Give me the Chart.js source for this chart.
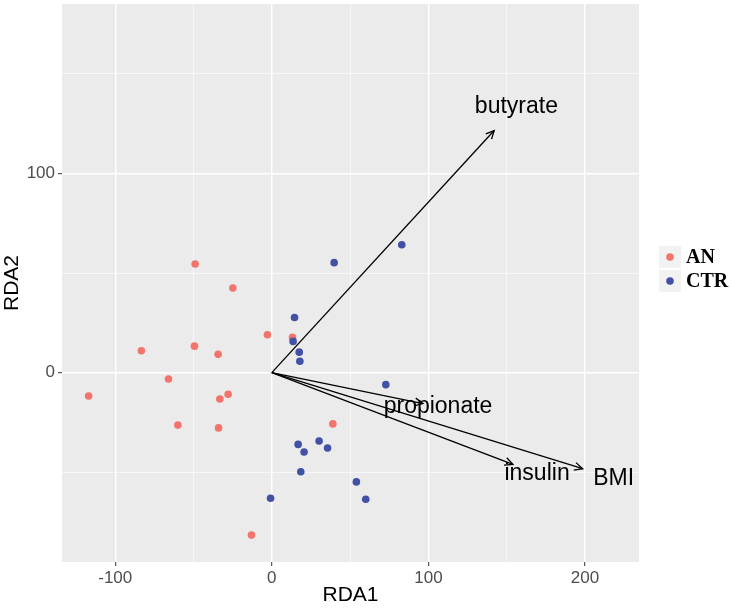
<!DOCTYPE html>
<html>
<head>
<meta charset="utf-8">
<script src="https://cdn.jsdelivr.net/npm/chart.js@4.4.1/dist/chart.umd.min.js"></script>
<style>
  html, body { margin: 0; padding: 0; background: #fff; }
</style>
</head>
<body>
<canvas id="rdaChart" width="732" height="608"></canvas>
<script>
// sample scores on RDA1 / RDA2
const anX = [-49, -24.9, -2.8, 13.2, -83.3, -49.4, -34.3, -66, -117, -33.2, -27.9, -60, -34, 39, -13];
const anY = [54.5, 42.5, 19, 17.7, 11, 13.3, 9.2, -3.2, -11.7, -13.2, -10.8, -26.3, -27.7, -25.7, -81.5];
const ctrX = [83, 39.8, 14.5, 13.6, 17.5, 17.9, 72.8, 16.8, 20.6, 30.2, 35.6, 18.5, 54, 60, -0.8];
const ctrY = [64.2, 55.2, 27.7, 15.7, 10.3, 5.7, -6, -36, -39.8, -34.3, -37.8, -49.7, -54.8, -63.5, -63];

// environmental vectors (arrow tips)
const envNames = ['butyrate', 'propionate', 'insulin', 'BMI'];
const envX = [142, 96.5, 154, 198.5];
const envY = [121.5, -15.5, -46, -48.2];

// axis ticks (minor grid every 50, labels only on majors)
const xTicks = [-100, -50, 0, 50, 100, 150, 200];
const xMajor = [-100, 0, 100, 200];
const yTicks = [-50, 0, 50, 100, 150];
const yMajor = [0, 100];

const groups = ['AN', 'CTR'];
const groupColors = ['#F2746B', '#4250A6'];

const sans = '"Liberation Sans", Arial, sans-serif';

function toPoints(xs, ys) {
    return xs.map((v, i) => ({ x: v, y: ys[i] }));
}

// grey panel behind the grid
const panelBg = {
    id: 'panelBg',
    beforeDraw(chart) {
        const { ctx, chartArea: a } = chart;
        ctx.save();
        ctx.fillStyle = '#EBEBEB';
        ctx.fillRect(a.left, a.top, a.right - a.left, a.bottom - a.top);
        ctx.restore();
    }
};

// arrow heads + vector labels
const arrowHeads = {
    id: 'arrowHeads',
    afterDatasetsDraw(chart) {
        const { ctx, scales: { x, y } } = chart;
        const x0 = x.getPixelForValue(0), y0 = y.getPixelForValue(0);
        ctx.save();
        ctx.strokeStyle = '#000';
        ctx.lineWidth = 1.3;
        envNames.forEach((name, i) => {
            const px = x.getPixelForValue(envX[i]);
            const py = y.getPixelForValue(envY[i]);
            const ang = Math.atan2(py - y0, px - x0);
            const len = 9, spread = Math.PI / 7;
            ctx.beginPath();
            ctx.moveTo(px - len * Math.cos(ang - spread), py - len * Math.sin(ang - spread));
            ctx.lineTo(px, py);
            ctx.lineTo(px - len * Math.cos(ang + spread), py - len * Math.sin(ang + spread));
            ctx.stroke();
            ctx.font = '23px ' + sans;
            ctx.fillStyle = '#000';
            ctx.textAlign = 'center';
            ctx.textBaseline = 'middle';
            ctx.fillText(name, x.getPixelForValue(envX[i] * 1.1), y.getPixelForValue(envY[i] * 1.1));
        });
        ctx.restore();
    }
};

// ggplot style legend on the right
const sideLegend = {
    id: 'sideLegend',
    afterDraw(chart) {
        const ctx = chart.ctx;
        ctx.save();
        groups.forEach((g, i) => {
            const top = 246 + i * 24;
            ctx.fillStyle = '#F2F2F2';
            ctx.fillRect(659, top, 22, 22);
            ctx.fillStyle = groupColors[i];
            ctx.beginPath();
            ctx.arc(670, top + 11, 3.8, 0, Math.PI * 2);
            ctx.fill();
            ctx.fillStyle = '#000';
            ctx.font = 'bold 20px "Liberation Serif", "Times New Roman", serif';
            ctx.textAlign = 'left';
            ctx.textBaseline = 'middle';
            ctx.fillText(g, 686, top + 12);
        });
        ctx.restore();
    }
};

const arrowSets = envNames.map((name, i) => ({
    label: name,
    data: [{ x: 0, y: 0 }, { x: envX[i], y: envY[i] }],
    showLine: true,
    borderColor: '#000',
    borderWidth: 1.3,
    pointRadius: 0,
    order: 0
}));

const ctxRda = document.getElementById('rdaChart').getContext('2d');
const rdaChart = new Chart(ctxRda, {
    type: 'scatter',
    data: {
        datasets: [
            ...arrowSets,
            {
                label: 'CTR',
                data: toPoints(ctrX, ctrY),
                backgroundColor: groupColors[1],
                borderWidth: 0,
                pointRadius: 3.8,
                order: 1
            },
            {
                label: 'AN',
                data: toPoints(anX, anY),
                backgroundColor: groupColors[0],
                borderWidth: 0,
                pointRadius: 3.8,
                order: 2
            }
        ]
    },
    options: {
        responsive: false,
        animation: false,
        layout: { padding: { top: 2, right: 93, left: 0, bottom: 0 } },
        plugins: {
            legend: { display: false },
            tooltip: { enabled: false }
        },
        scales: {
            x: {
                type: 'linear',
                min: -134,
                max: 234.5,
                afterBuildTicks: s => { s.ticks = xTicks.map(v => ({ value: v })); },
                afterFit: s => { s.height = 46; s.paddingLeft = 0; s.paddingRight = 0; },
                ticks: {
                    autoSkip: false,
                    maxRotation: 0,
                    padding: 2,
                    color: '#4D4D4D',
                    font: { family: sans, size: 17 },
                    callback: v => xMajor.includes(v) ? String(v) : ''
                },
                grid: {
                    color: '#FFFFFF',
                    lineWidth: c => (c.tick && xMajor.includes(c.tick.value)) ? 1.4 : 0.6,
                    tickColor: c => (c.tick && xMajor.includes(c.tick.value)) ? '#333333' : 'rgba(0,0,0,0)',
                    tickWidth: 1,
                    tickLength: 4
                },
                border: { display: false },
                title: {
                    display: true,
                    text: 'RDA1',
                    color: '#000',
                    padding: 0,
                    font: { family: sans, size: 21 }
                }
            },
            y: {
                type: 'linear',
                min: -95,
                max: 185,
                afterBuildTicks: s => { s.ticks = yTicks.map(v => ({ value: v })); },
                afterFit: s => { s.width = 62; s.paddingTop = 0; s.paddingBottom = 0; },
                ticks: {
                    autoSkip: false,
                    padding: 3,
                    color: '#4D4D4D',
                    font: { family: sans, size: 17 },
                    callback: v => yMajor.includes(v) ? String(v) : ''
                },
                grid: {
                    color: '#FFFFFF',
                    lineWidth: c => (c.tick && yMajor.includes(c.tick.value)) ? 1.4 : 0.6,
                    tickColor: c => (c.tick && yMajor.includes(c.tick.value)) ? '#333333' : 'rgba(0,0,0,0)',
                    tickWidth: 1,
                    tickLength: 4
                },
                border: { display: false },
                title: {
                    display: true,
                    text: 'RDA2',
                    color: '#000',
                    padding: 0,
                    font: { family: sans, size: 21 }
                }
            }
        }
    },
    plugins: [panelBg, arrowHeads, sideLegend]
});
</script>
</body>
</html>
